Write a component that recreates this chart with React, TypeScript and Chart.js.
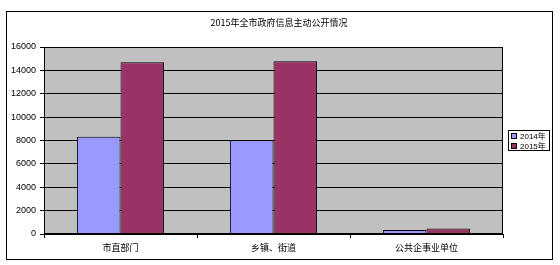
import { useEffect, useRef } from "react";
import { Chart, registerables } from "chart.js";

Chart.register(...registerables);

const chartTitle = "2015年全市政府信息主动公开情况";
const categories = ["市直部门", "乡镇、街道", "公共企事业单位"];
const seriesNames = ["2014年", "2015年"];
const values2014 = [8320, 8020, 340];
const values2015 = [14690, 14780, 460];
const yMax = 16000;
const yStep = 2000;

const seriesColors = ["#9999FF", "#993366"];
const cjkFont = '"Noto Sans CJK SC", "Liberation Sans", sans-serif';
const numFont = '"Liberation Sans", "Noto Sans CJK SC", sans-serif';

// Frame, grey plot background, title and boxed legend
const framePlugin = {
  id: "frame",
  beforeDraw(chart: any) {
    const { ctx, chartArea } = chart;
    ctx.save();
    ctx.fillStyle = "#ffffff";
    ctx.fillRect(0, 0, chart.width, chart.height);
    ctx.fillStyle = "#C0C0C0";
    ctx.fillRect(chartArea.left, chartArea.top, chartArea.right - chartArea.left, chartArea.bottom - chartArea.top);
    ctx.restore();
  },
  afterDraw(chart: any) {
    const { ctx, chartArea } = chart;
    ctx.save();
    ctx.strokeStyle = "#000";
    ctx.lineWidth = 1;
    // plot area outline
    ctx.strokeRect(Math.round(chartArea.left) + 0.5, Math.round(chartArea.top) + 0.5,
      Math.round(chartArea.right - chartArea.left) - 1, Math.round(chartArea.bottom - chartArea.top) - 1);
    // outer chart border
    ctx.strokeRect(6.5, 11.5, 546, 248);
    // title
    ctx.fillStyle = "#000";
    ctx.font = `9px ${cjkFont}`;
    ctx.textAlign = "center";
    ctx.textBaseline = "middle";
    ctx.fillText(chartTitle, 279, 23);
    // legend
    ctx.fillStyle = "#fff";
    ctx.fillRect(508, 130, 42, 21);
    ctx.strokeRect(508.5, 130.5, 41, 20);
    ctx.font = `8px ${numFont}`;
    ctx.textAlign = "left";
    chart.data.datasets.forEach((ds: any, i: number) => {
      const y = 136 + i * 10;
      ctx.fillStyle = ds.backgroundColor;
      ctx.fillRect(512, y - 2, 5, 5);
      ctx.strokeStyle = "#000";
      ctx.strokeRect(511.5, y - 2.5, 5, 5);
      ctx.fillStyle = "#000";
      ctx.fillText(ds.label, 520, y + 0.5);
    });
    ctx.restore();
  },
};

export default function App() {
  const canvasRef = useRef<HTMLCanvasElement>(null);

  useEffect(() => {
    if (!canvasRef.current) return;
    const chart = new Chart(canvasRef.current, {
      type: "bar",
      data: {
        labels: categories,
        datasets: [
          { label: seriesNames[0], data: values2014, backgroundColor: seriesColors[0], borderColor: "#000", borderWidth: 1 },
          { label: seriesNames[1], data: values2015, backgroundColor: seriesColors[1], borderColor: "#000", borderWidth: 1 },
        ],
      },
      options: {
        responsive: false,
        animation: false,
        layout: { padding: { top: 47, right: 57, left: 0, bottom: 0 } },
        datasets: { bar: { categoryPercentage: 0.57, barPercentage: 1 } },
        plugins: { legend: { display: false }, tooltip: { enabled: false }, title: { display: false } },
        scales: {
          x: {
            afterFit: (s: any) => { s.height = 31; },
            grid: { display: true, offset: true, drawOnChartArea: false, drawTicks: true, tickLength: 4, color: "#000" },
            border: { display: true, color: "#000" },
            ticks: { color: "#000", font: { family: cjkFont, size: 9 }, padding: 4, maxRotation: 0 },
          },
          y: {
            min: 0,
            max: yMax,
            afterFit: (s: any) => { s.width = 44; },
            grid: { color: "#000", drawTicks: true, tickLength: 4 },
            border: { display: true, color: "#000" },
            ticks: {
              stepSize: yStep,
              color: "#000",
              font: { family: numFont, size: 9 },
              padding: 4,
              callback: (v: any) => String(v),
            },
          },
        },
      },
      plugins: [framePlugin],
    });
    return () => chart.destroy();
  }, []);

  return (
    <div style={{ position: "absolute", left: 0, top: 0, width: 560, height: 265, background: "#fff" }}>
      <canvas ref={canvasRef} width={560} height={265} />
    </div>
  );
}
